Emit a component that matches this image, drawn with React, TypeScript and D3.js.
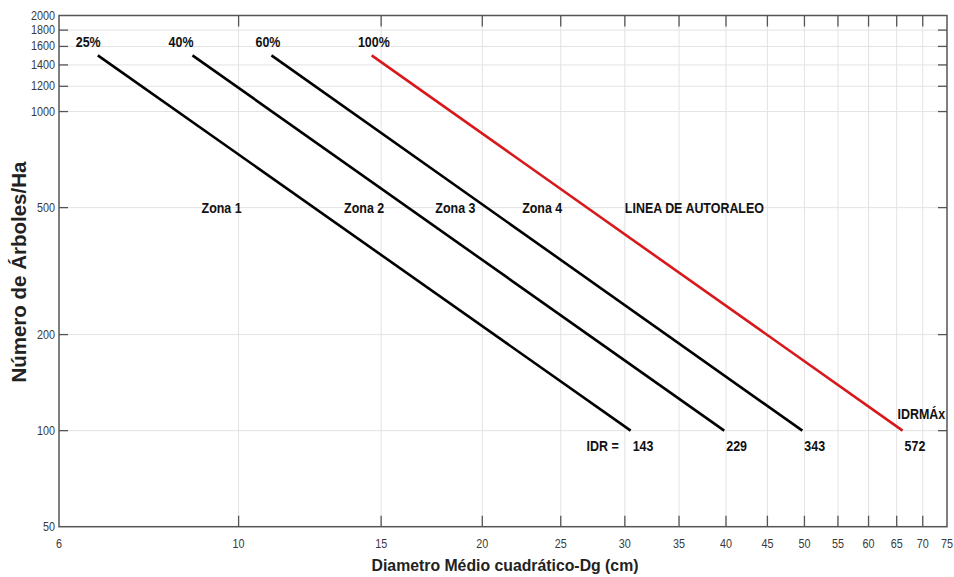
import React, { useEffect, useRef } from 'react';
import * as d3 from 'd3';

// Líneas de densidad (IDR) de inicio (N=1500) a fin (N=100)
const pctLabels = ['25%', '40%', '60%', '100%'];
const idrValues = [143, 229, 343, 572];
const dgStart = [6.7, 8.77, 10.98, 14.6];
const dgEnd = [30.5, 39.8, 49.7, 66.1];
const nStart = 1500;
const nEnd = 100;
const pctLabelDg = [6.52, 8.49, 10.87, 14.69];

const zoneLabels = ['Zona 1', 'Zona 2', 'Zona 3', 'Zona 4', 'LINEA DE AUTORALEO'];
const zoneDg = [9.0, 13.5, 17.5, 22.4, 30.0];
const zoneN = 500;

const xTicks = [6, 10, 15, 20, 25, 30, 35, 40, 45, 50, 55, 60, 65, 70, 75];
const yTicks = [50, 100, 200, 500, 1000, 1200, 1400, 1600, 1800, 2000];

const App: React.FC = () => {
  const ref = useRef<SVGSVGElement>(null);

  useEffect(() => {
    document.body.style.margin = '0';
    if (!ref.current) return;
    const svg = d3.select(ref.current);
    svg.selectAll('*').remove();

    const left = 59, right = 947, top = 15.5, bottom = 526.7;
    const sans = "'Liberation Sans', Arial, sans-serif";

    const x = d3.scaleLog().domain([6, 75]).range([left, right]);
    const y = d3.scaleLog().domain([50, 2000]).range([bottom, top]);

    // texto comprimido en horizontal (como en la imagen original)
    const label = (px: number, py: number, txt: string | number, opts: {
      size?: number; sx?: number; anchor?: string; bold?: boolean; fill?: string;
    } = {}) => {
      const { size = 15, sx = 0.83, anchor = 'start', bold = true, fill = '#111' } = opts;
      return svg.append('text')
        .attr('transform', `translate(${px},${py}) scale(${sx},1)`)
        .attr('text-anchor', anchor)
        .attr('font-family', sans)
        .attr('font-weight', bold ? 'bold' : 'normal')
        .attr('font-size', size)
        .attr('fill', fill)
        .text(txt);
    };

    svg.append('rect').attr('width', 954).attr('height', 577).attr('fill', '#fff');

    // Rejilla
    const grid = svg.append('g').attr('stroke', '#e3e3e3').attr('stroke-width', 1);
    xTicks.slice(1, -1).forEach(t => {
      grid.append('line').attr('x1', x(t)).attr('x2', x(t)).attr('y1', top).attr('y2', bottom);
    });
    yTicks.slice(1, -1).forEach(t => {
      grid.append('line').attr('x1', left).attr('x2', right).attr('y1', y(t)).attr('y2', y(t));
    });

    // Marco
    svg.append('rect')
      .attr('x', left).attr('y', top)
      .attr('width', right - left).attr('height', bottom - top)
      .attr('fill', 'none').attr('stroke', '#555').attr('stroke-width', 1.5);

    // Marcas hacia dentro
    const ticks = svg.append('g').attr('stroke', '#555').attr('stroke-width', 1.3);
    xTicks.slice(1, -1).forEach(t => {
      ticks.append('line').attr('x1', x(t)).attr('x2', x(t)).attr('y1', bottom).attr('y2', bottom - 11);
      ticks.append('line').attr('x1', x(t)).attr('x2', x(t)).attr('y1', top).attr('y2', top + 11);
    });
    yTicks.slice(1, -1).forEach(t => {
      ticks.append('line').attr('x1', left).attr('x2', left + 9).attr('y1', y(t)).attr('y2', y(t));
      ticks.append('line').attr('x1', right).attr('x2', right - 9).attr('y1', y(t)).attr('y2', y(t));
    });

    // Etiquetas de marcas
    xTicks.forEach(t => label(x(t), bottom + 21, t, { size: 12, sx: 0.9, anchor: 'middle', bold: false, fill: '#3a3a3a' }));
    yTicks.forEach(t => label(left - 4, y(t) + 4, t, { size: 12, sx: 0.9, anchor: 'end', bold: false, fill: '#3a3a3a' }));

    // Líneas
    const line = d3.line<[number, number]>().x(d => x(d[0])).y(d => y(d[1]));
    idrValues.forEach((v, i) => {
      svg.append('path')
        .attr('d', line([[dgStart[i], nStart], [dgEnd[i], nEnd]]))
        .attr('stroke', i === idrValues.length - 1 ? '#d7191c' : '#000')
        .attr('stroke-width', 2.6).attr('fill', 'none');

      label(x(pctLabelDg[i]), y(nStart) - 8, pctLabels[i], { anchor: 'middle' });
      label(x(dgEnd[i]) + 2, y(nEnd) + 20, v);
    });

    label(x(dgEnd[0]) - 12, y(nEnd) + 20, 'IDR =', { anchor: 'end' });
    label(x(dgEnd[3]) - 5, y(nEnd) - 12, 'IDRMÁx');

    // Zonas
    zoneLabels.forEach((z, i) => label(x(zoneDg[i]), y(zoneN) + 5, z));

    // Títulos de ejes
    label((left + right) / 2 + 2, 571, 'Diametro Médio cuadrático-Dg (cm)', { size: 17, sx: 0.93, anchor: 'middle', fill: '#222' });

    svg.append('text')
      .attr('transform', `translate(26,${(top + bottom) / 2 + 1}) rotate(-90)`)
      .attr('text-anchor', 'middle')
      .attr('font-family', sans).attr('font-weight', 'bold').attr('font-size', 20.5)
      .attr('fill', '#222').text('Número de Árboles/Ha');
  }, []);

  return <svg ref={ref} width={954} height={577} style={{ display: 'block' }} />;
};

export default App;
